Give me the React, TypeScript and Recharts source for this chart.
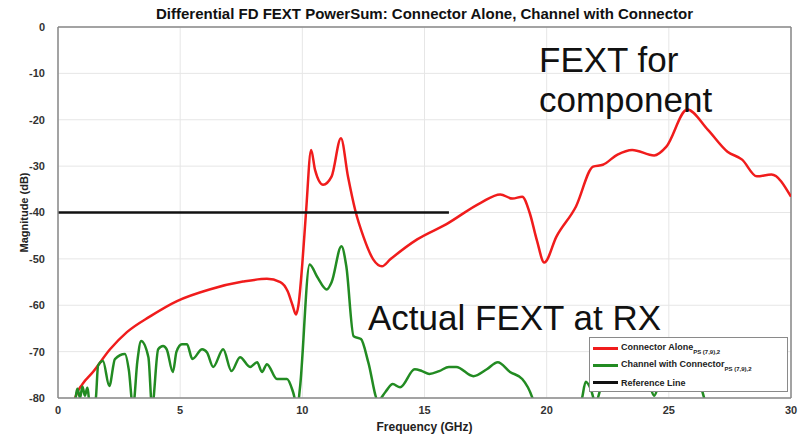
import React from 'react';
import { LineChart, Line, XAxis, YAxis, CartesianGrid, ReferenceLine, Legend, Label } from 'recharts';

// Connector alone (red)
const redFreq = [0.6, 0.7, 1.0, 1.43, 2.13, 2.82, 3.77, 4.87, 6.2, 7.57, 8.55, 9.1, 9.4, 9.6, 9.74, 9.84, 10.0, 10.15, 10.36, 10.52, 10.85, 11.2, 11.58, 11.87, 12.16, 12.5, 12.9, 13.26, 13.6, 14.7, 15.9, 17.3, 18.1, 18.6, 19.0, 19.3, 19.6, 19.9, 20.4, 21.2, 21.9, 22.3, 22.9, 23.5, 24.4, 24.9, 25.75, 26.6, 27.4, 28.0, 28.6, 29.2, 30];
const redDb = [-83, -80, -77, -74.4, -69.5, -65.8, -62.4, -59.1, -56.6, -54.9, -54.3, -55, -57, -60, -62, -60, -51, -40, -26.5, -30.8, -34, -32.2, -24, -32.3, -39.4, -45.2, -50.1, -51.6, -50.1, -45.8, -42.5, -37.9, -36.1, -37, -36.6, -40, -46, -50.8, -45.2, -38.7, -30.1, -29.7, -27.5, -26.5, -27.7, -25.8, -17.8, -22.2, -26.9, -28.6, -32.2, -31.8, -36.6];

// Channel with connector (green)
const greenFreq = [0.7, 0.8, 0.9, 1.0, 1.1, 1.2, 1.35, 1.55, 1.64, 1.84, 2.1, 2.33, 2.74, 2.9, 3.07, 3.25, 3.4, 3.7, 3.85, 4.1, 4.3, 4.45, 4.7, 4.85, 5.07, 5.28, 5.5, 5.9, 6.1, 6.35, 6.76, 7.1, 7.45, 7.86, 8.15, 8.35, 8.55, 8.96, 9.37, 9.62, 9.8, 9.9, 10.3, 10.6, 11.0, 11.2, 11.6, 11.8, 12.1, 12.4, 12.7, 13.1, 13.4, 13.7, 14.0, 14.6, 14.9, 15.2, 15.6, 16.0, 16.3, 17.0, 17.55, 18.0, 18.5, 19.0, 19.45, 19.8, 20.5, 21.2, 21.45, 21.6, 21.8, 22.0, 22.3, 22.7, 23.0, 23.5, 24.0, 24.2, 24.4, 24.6, 25.0, 25.6, 26.0, 26.3, 26.5, 27, 30];
const greenDb = [-81, -78, -80, -77.5, -79.5, -77.8, -84, -80, -73, -72, -77.4, -71.6, -70.5, -74, -82, -72, -67.7, -71.2, -82, -69.5, -68.8, -69.5, -74.4, -70, -68.4, -68.4, -71.6, -69.5, -70.2, -73.3, -69.5, -74.2, -71.2, -73.3, -72.3, -74.4, -72.7, -75.9, -75.9, -78.7, -82, -78, -51.2, -53.8, -56.6, -55, -47.3, -51.6, -66.7, -67.3, -72.3, -80.5, -78.7, -77, -77.7, -73.8, -74.2, -74.8, -74.2, -73.3, -73.3, -75.3, -73.8, -72.3, -74.4, -75.9, -80.5, -88, -90, -86, -80, -76.5, -78, -81, -77, -77.5, -75, -73, -75, -77, -79.5, -77, -74, -73, -75, -77.4, -81, -88, -90];

// Reference line (black)
const refFreq = [0, 16];
const refDb = [-40, -40];

const xTicks = [0, 5, 10, 15, 20, 25, 30];
const yTicks = [-80, -70, -60, -50, -40, -30, -20, -10, 0];

const seriesNames = ['Connector Alone', 'Channel with Connector', 'Reference Line'];
const seriesSubs = ['PS (7,9),2', 'PS (7,9),2', ''];
const seriesColors = ['#f01c1c', '#228b22', '#111111'];

const toPoints = (fs: number[], vs: number[]) => fs.map((f, i) => ({ f, v: vs[i] }));

const FONT = '"Liberation Sans", Arial, sans-serif';

const LegendBox = () => (
  <div
    style={{
      width: 197,
      height: 51,
      border: '1px solid #8a8a8a',
      background: '#fff',
      fontFamily: FONT,
      fontWeight: 'bold',
      fontSize: 9,
      color: '#222',
      paddingTop: 2,
      boxSizing: 'content-box',
    }}
  >
    {seriesNames.map((name, i) => (
      <div key={name} style={{ display: 'flex', alignItems: 'center', height: 17 }}>
        <div style={{ width: 25, height: 2.5, background: seriesColors[i], marginLeft: 3, marginRight: 3 }} />
        <span>
          {name}
          {seriesSubs[i] && <sub style={{ fontSize: 6, verticalAlign: -4 }}>{seriesSubs[i]}</sub>}
        </span>
      </div>
    ))}
  </div>
);

const bigText: React.CSSProperties = {
  position: 'absolute',
  fontFamily: FONT,
  fontSize: 35,
  lineHeight: 1,
  color: '#111',
  whiteSpace: 'nowrap',
};

export default function App() {
  const tickStyle = { fontSize: 11, fontWeight: 'bold' as const, fill: '#333', fontFamily: FONT };
  return (
    <div style={{ position: 'absolute', left: 0, top: 0, width: 811, height: 438, background: '#fff', fontFamily: FONT }}>
      <div
        style={{
          position: 'absolute',
          left: 58,
          width: 733,
          top: 5,
          textAlign: 'center',
          fontSize: 15,
          fontWeight: 'bold',
          color: '#111',
        }}
      >
        Differential FD FEXT PowerSum: Connector Alone, Channel with Connector
      </div>
      <LineChart width={811} height={438} margin={{ top: 27, right: 20, bottom: 0, left: 0 }}>
        <CartesianGrid stroke="#e6e6e6" />
        <XAxis
          dataKey="f"
          type="number"
          domain={[0, 30]}
          ticks={xTicks}
          allowDataOverflow
          height={40}
          tick={tickStyle}
          tickLine={false}
          axisLine={{ stroke: '#888', strokeWidth: 1.5 }}
        >
          <Label
            value="Frequency (GHz)"
            position="insideBottom"
            offset={7}
            style={{ fontSize: 12, fontWeight: 'bold', fill: '#222', fontFamily: FONT }}
          />
        </XAxis>
        <YAxis
          type="number"
          domain={[-80, 0]}
          ticks={yTicks}
          allowDataOverflow
          width={58}
          tick={tickStyle}
          tickLine={false}
          tickMargin={7}
          axisLine={{ stroke: '#888', strokeWidth: 1.5 }}
        >
          <Label
            value="Magnitude (dB)"
            angle={-90}
            position="insideLeft"
            offset={24}
            style={{ textAnchor: 'middle', fontSize: 11, fontWeight: 'bold', fill: '#222', fontFamily: FONT }}
          />
        </YAxis>
        <ReferenceLine y={0} stroke="#888" strokeWidth={1.5} />
        <ReferenceLine x={30} stroke="#888" strokeWidth={1.5} />
        <Line
          data={toPoints(redFreq, redDb)}
          dataKey="v"
          name={seriesNames[0]}
          type="monotone"
          stroke={seriesColors[0]}
          strokeWidth={2.5}
          dot={false}
          isAnimationActive={false}
        />
        <Line
          data={toPoints(greenFreq, greenDb)}
          dataKey="v"
          name={seriesNames[1]}
          type="monotone"
          stroke={seriesColors[1]}
          strokeWidth={2.5}
          dot={false}
          isAnimationActive={false}
        />
        <Line
          data={toPoints(refFreq, refDb)}
          dataKey="v"
          name={seriesNames[2]}
          type="linear"
          stroke={seriesColors[2]}
          strokeWidth={2.5}
          dot={false}
          isAnimationActive={false}
        />
        <Legend
          layout="vertical"
          verticalAlign="middle"
          align="center"
          content={() => <LegendBox />}
          wrapperStyle={{ left: 589, top: 337, width: 199, height: 55 }}
        />
      </LineChart>
      <div style={{ ...bigText, left: 539, top: 42 }}>FEXT for</div>
      <div style={{ ...bigText, left: 539, top: 82 }}>component</div>
      <div style={{ ...bigText, left: 368, top: 300 }}>Actual FEXT at RX</div>
    </div>
  );
}
